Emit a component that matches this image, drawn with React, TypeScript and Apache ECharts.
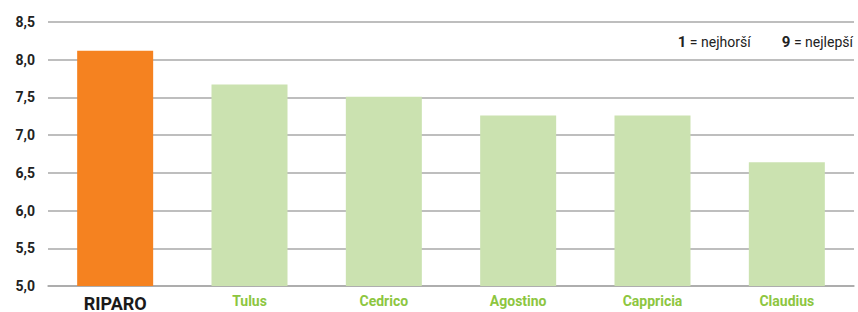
import React, { useEffect, useRef } from "react";
import * as echarts from "echarts";

const categories = ["RIPARO", "Tulus", "Cedrico", "Agostino", "Cappricia", "Claudius"];
const scores = [8.12, 7.67, 7.51, 7.26, 7.26, 6.64];
const barColors = ["#F58220", "#CBE2B0", "#CBE2B0", "#CBE2B0", "#CBE2B0", "#CBE2B0"];
const yMin = 5;
const yMax = 8.5;
const yStep = 0.5;

export default function App() {
  const ref = useRef<HTMLDivElement>(null);
  useEffect(() => {
    document.body.style.margin = "0";
    const chart = echarts.init(ref.current!, null, { renderer: "svg" });
    chart.setOption({
      animation: false,
      grid: { left: 48, right: 4, top: 22, bottom: 25 },
      xAxis: {
        type: "category",
        data: categories,
        axisLine: { show: true, lineStyle: { color: "#a8a8a8", width: 1.5 } },
        axisTick: { show: false },
        axisLabel: {
          margin: 8,
          fontFamily: "Roboto",
          formatter: (v: string, i: number) => (i === 0 ? `{main|${v}}` : `{other|${v}}`),
          rich: {
            main: { fontSize: 18, fontWeight: "bold", color: "#1a1a1a", fontFamily: "Roboto" },
            other: { fontSize: 14, fontWeight: "bold", color: "#8DC63F", fontFamily: "Roboto" },
          },
        },
      },
      yAxis: {
        type: "value",
        min: yMin,
        max: yMax,
        interval: yStep,
        axisLine: { show: false },
        axisTick: { show: false },
        splitLine: { lineStyle: { color: "#a8a8a8", width: 1.5 } },
        axisLabel: {
          margin: 13,
          fontSize: 14,
          fontWeight: "bold",
          color: "#222",
          fontFamily: "Roboto",
          formatter: (v: number) => v.toFixed(1).replace(".", ","),
        },
      },
      series: [
        {
          type: "bar",
          barWidth: 76,
          data: scores.map((v, i) => ({ value: v, itemStyle: { color: barColors[i] } })),
        },
      ],
      graphic: [
        {
          type: "text",
          right: 5,
          top: 34,
          style: {
            text: "{b|1} = nejhorší         {b|9} = nejlepší",
            fontSize: 14,
            fontFamily: "Roboto",
            fill: "#222",
            rich: {
              b: { fontWeight: "bold", fontSize: 15, fontFamily: "Roboto", fill: "#222" },
            },
          },
        },
      ],
    });
    return () => chart.dispose();
  }, []);
  return <div ref={ref} style={{ width: 858, height: 312 }} />;
}
